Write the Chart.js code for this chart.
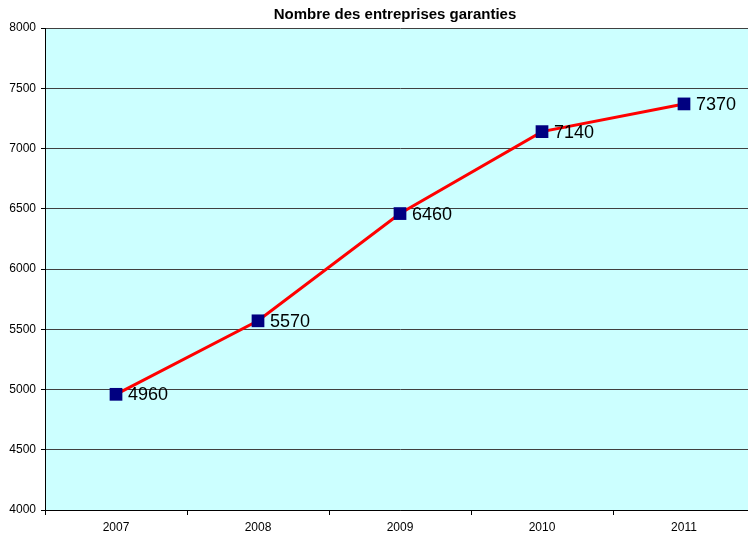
<!DOCTYPE html>
<html>
<head>
<meta charset="utf-8">
<script src="https://cdn.jsdelivr.net/npm/chart.js@4.4.1/dist/chart.umd.min.js"></script>
<style>
  html, body { margin: 0; padding: 0; background: #fff; overflow: hidden; }
  /* the plot area runs a few pixels past the right edge, as in the original */
  #wrap { width: 748px; height: 536px; overflow: hidden; }
</style>
</head>
<body>
<div id="wrap"><canvas id="chart" width="755" height="536"></canvas></div>
<script>
// chart data
const years = ['2007', '2008', '2009', '2010', '2011'];
const entreprises = [4960, 5570, 6460, 7140, 7370];
const yTicks = [4000, 4500, 5000, 5500, 6000, 6500, 7000, 7500, 8000];
const chartTitle = 'Nombre des entreprises garanties';

const FONT = "Arial, 'Liberation Sans', sans-serif";

// light cyan plot background
const plotBackground = {
    id: 'plotBackground',
    beforeDraw(chart) {
        const { ctx, chartArea } = chart;
        ctx.save();
        ctx.fillStyle = '#CCFFFF';
        ctx.fillRect(chartArea.left, chartArea.top, chartArea.right - chartArea.left, chartArea.bottom - chartArea.top);
        ctx.restore();
    }
};

// title centred over the plot area
const plotTitle = {
    id: 'plotTitle',
    afterDraw(chart) {
        const { ctx, chartArea } = chart;
        ctx.save();
        ctx.font = 'bold 15px ' + FONT;
        ctx.fillStyle = '#000';
        ctx.textAlign = 'center';
        ctx.textBaseline = 'middle';
        ctx.fillText(chartTitle, (chartArea.left + chartArea.right) / 2 - 5, 15);
        ctx.restore();
    }
};

// value labels to the right of each marker
const valueLabels = {
    id: 'valueLabels',
    afterDatasetsDraw(chart) {
        const { ctx } = chart;
        const meta = chart.getDatasetMeta(0);
        ctx.save();
        ctx.font = '18px ' + FONT;
        ctx.fillStyle = '#000';
        ctx.textAlign = 'left';
        ctx.textBaseline = 'middle';
        meta.data.forEach((pt, i) => {
            ctx.fillText(String(entreprises[i]), pt.x + 12, pt.y + 1);
        });
        ctx.restore();
    }
};

new Chart(document.getElementById('chart'), {
    type: 'line',
    data: {
        labels: years,
        datasets: [{
            data: entreprises,
            borderColor: '#FF0000',
            borderWidth: 3,
            pointStyle: 'rect',
            pointRadius: 9,
            pointBackgroundColor: '#000080',
            pointBorderColor: '#000080',
            pointBorderWidth: 0,
            tension: 0,
            fill: false
        }]
    },
    options: {
        responsive: false,
        animation: false,
        layout: { padding: { left: 0, right: 0, top: 28, bottom: 0 }, autoPadding: false },
        plugins: {
            legend: { display: false },
            tooltip: { enabled: false },
            title: { display: false }
        },
        scales: {
            x: {
                offset: true,
                afterFit(scale) {
                    scale.height = 26;
                    scale.paddingLeft = 0;
                    scale.paddingRight = 0;
                },
                grid: {
                    offset: true,
                    drawOnChartArea: false,
                    drawTicks: true,
                    tickLength: 5,
                    color: '#000'
                },
                border: { color: '#000', width: 1 },
                ticks: {
                    color: '#000',
                    padding: 5,
                    font: { family: FONT, size: 12 }
                }
            },
            y: {
                min: 4000,
                max: 8000,
                afterFit(scale) {
                    scale.width = 45;
                    scale.paddingTop = 0;
                    scale.paddingBottom = 0;
                },
                afterBuildTicks(scale) { scale.ticks = yTicks.map(v => ({ value: v })); },
                grid: {
                    color: '#404040',
                    tickColor: '#000',
                    tickLength: 4,
                    drawTicks: true
                },
                border: { color: '#000', width: 1 },
                ticks: {
                    color: '#000',
                    padding: 5,
                    font: { family: FONT, size: 12 },
                    callback: (v) => String(v)
                }
            }
        }
    },
    plugins: [plotBackground, valueLabels, plotTitle]
});
</script>
</body>
</html>
